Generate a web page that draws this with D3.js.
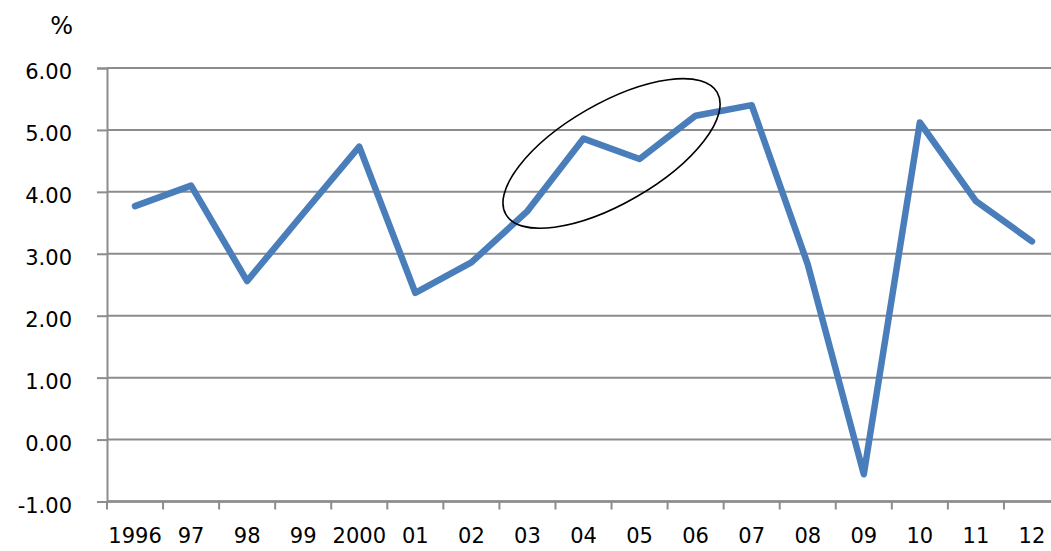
<!DOCTYPE html>
<html>
<head>
<meta charset="utf-8">
<script src="https://cdn.jsdelivr.net/npm/d3@7/dist/d3.min.js"></script>
<style>
  html, body { margin: 0; padding: 0; background: #fff; }
  svg { display: block; }
  text { font-family: "DejaVu Sans", Verdana, sans-serif; fill: #000; }
</style>
</head>
<body>
<svg id="chart" width="1051" height="551"></svg>
<script>
// Annual growth rate, 1996–2012 (%)
const years = ["1996", "97", "98", "99", "2000", "01", "02", "03", "04", "05", "06", "07", "08", "09", "10", "11", "12"];
const growth = [3.77, 4.10, 2.56, 3.65, 4.73, 2.37, 2.86, 3.69, 4.86, 4.53, 5.23, 5.40, 2.83, -0.56, 5.12, 3.85, 3.20];
const yTicks = [-1, 0, 1, 2, 3, 4, 5, 6];
const yUnit = "%";

// Highlight ring around 2003–2006, centred between "04" and "05"
const ringBetween = ["04", "05"];
const ringValue = 4.62;

const svg = d3.select("#chart");

const x = d3.scaleBand().domain(years).range([107, 1060]);
const y = d3.scaleLinear().domain([-1, 6]).range([501.5, 68]);

const gridColor = "#8c8c8c";

// Horizontal gridlines
svg.append("g")
  .selectAll("line")
  .data(yTicks)
  .join("line")
  .attr("x1", 107).attr("x2", 1051)
  .attr("y1", d => y(d)).attr("y2", d => y(d))
  .attr("stroke", gridColor)
  .attr("stroke-width", 2);

// Y axis (plain hyphen for negatives)
const yAxis = svg.append("g")
  .attr("transform", "translate(107,0)")
  .call(d3.axisLeft(y).tickValues(yTicks).tickFormat(d => d.toFixed(2)).tickSize(10).tickPadding(25));
yAxis.select(".domain").attr("stroke", gridColor).attr("stroke-width", 2);
yAxis.selectAll(".tick line").attr("stroke", gridColor).attr("stroke-width", 2);
yAxis.selectAll(".tick text")
  .attr("font-size", 21)
  .attr("font-family", "DejaVu Sans, Verdana, sans-serif")
  .attr("fill", "#000")
  .attr("dy", "0.5em");

// X axis
const xAxis = svg.append("g")
  .attr("transform", `translate(0,${y(-1)})`)
  .call(d3.axisBottom(x).tickSize(0).tickPadding(30));
xAxis.select(".domain").remove();
svg.append("line")
  .attr("x1", 107).attr("x2", 1051)
  .attr("y1", y(-1)).attr("y2", y(-1))
  .attr("stroke", gridColor).attr("stroke-width", 2.5);
xAxis.selectAll(".tick text")
  .attr("font-size", 21)
  .attr("font-family", "DejaVu Sans, Verdana, sans-serif")
  .attr("fill", "#000")
  .attr("dy", "0.55em");

// Category boundary tick marks
const bounds = years.map(d => x(d)).concat([x(years[years.length - 1]) + x.bandwidth()]);
svg.append("g")
  .selectAll("line")
  .data(bounds)
  .join("line")
  .attr("x1", d => d).attr("x2", d => d)
  .attr("y1", y(-1)).attr("y2", y(-1) + 8)
  .attr("stroke", gridColor)
  .attr("stroke-width", 2);

// Unit label
svg.append("text")
  .attr("x", 73).attr("y", 34)
  .attr("text-anchor", "end")
  .attr("font-size", 24)
  .text(yUnit);

// Series line
const line = d3.line()
  .x((d, i) => x(years[i]) + x.bandwidth() / 2)
  .y(d => y(d));

svg.append("path")
  .datum(growth)
  .attr("d", line)
  .attr("fill", "none")
  .attr("stroke", "#4a7ebb")
  .attr("stroke-width", 6.5)
  .attr("stroke-linejoin", "round")
  .attr("stroke-linecap", "round");

// Highlight ring
const ringX = (x(ringBetween[0]) + x.bandwidth() + x(ringBetween[1])) / 2;
svg.append("ellipse")
  .attr("cx", 0).attr("cy", 0)
  .attr("rx", 122).attr("ry", 50)
  .attr("transform", `translate(${ringX},${y(ringValue)}) rotate(-30)`)
  .attr("fill", "none")
  .attr("stroke", "#000")
  .attr("stroke-width", 1.6);
</script>
</body>
</html>
